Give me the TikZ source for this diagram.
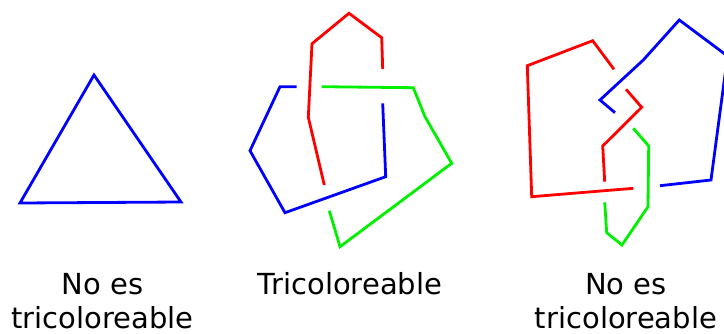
\documentclass[tikz,border=0pt]{standalone}
\usepackage{fontspec}
\setmainfont{DejaVu Sans}
\definecolor{knotred}{RGB}{255,0,0}
\definecolor{knotgreen}{RGB}{0,240,0}
\definecolor{knotblue}{RGB}{0,0,255}
\begin{document}
\begin{tikzpicture}[x=1pt,y=-1pt,
    strand/.style={line width=2.8pt, line join=miter},
    caption/.style={font=\fontsize{29}{34}\selectfont, align=center, inner sep=0pt, anchor=base}]
    \useasboundingbox (0,0) rectangle (724,333);
    \clip (0,0) rectangle (724,333);

    % unknot
    \draw[strand,knotblue] (94,75) -- (20,203) -- (181,202) -- cycle;

    % trefoil
    \draw[strand,knotred] (382.7,69) -- (381.7,37.7) -- (349,13.3) -- (312,43.7) -- (308.3,117.3) -- (324.3,185);
    \draw[strand,knotblue] (296.7,86.7) -- (280,86.7) -- (250,150.7) -- (285,212.7) -- (385.7,176.7) -- (382.7,103.3);
    \draw[strand,knotgreen] (321.7,86.7) -- (413.3,87.7) -- (425,116.7) -- (451.7,163.3) -- (340,246.7) -- (329.3,210.7);

    % figure eight
    \draw[strand,knotred] (614,69.3) -- (592.7,40.7) -- (527.3,65.7) -- (531.7,196.7) -- (633.3,188.3);
    \draw[strand,knotred] (626,89.3) -- (641.7,107.3) -- (602.7,146) -- (604.7,181.7);
    \draw[strand,knotblue] (615,112.7) -- (600,100) -- (643.3,60) -- (679.3,20) -- (727.5,56) -- (711,180) -- (660,185.7);
    \draw[strand,knotgreen] (633.3,128.3) -- (648.7,146) -- (648,206.7) -- (622,245) -- (606.7,232.7) -- (604.7,202.3);

    % last line of each caption sits on y=328
    \node[caption] (unknotlabel) at (102.5,328.3) {No es\\tricoloreable};
    \node[caption] (trefoillabel) at (350,294.3) {Tricoloreable};
    \node[caption] (eightlabel) at (626,328.3) {No es\\tricoloreable};
\end{tikzpicture}
\end{document}
